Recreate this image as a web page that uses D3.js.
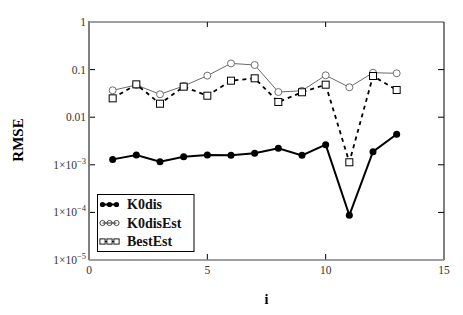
<!DOCTYPE html>
<html><head><meta charset="utf-8">
<script src="https://cdn.jsdelivr.net/npm/d3@7"></script>
<style>body{margin:0;background:#fff} text{font-family:"Liberation Serif","Times New Roman",serif}</style>
</head><body><svg id="c" width="463" height="315"></svg>
<script>
const idx = [1,2,3,4,5,6,7,8,9,10,11,12,13];
const k0dis = [0.0013,0.0016,0.00116,0.00148,0.0016,0.00158,0.00174,0.00222,0.00158,0.00265,0.000087,0.00189,0.00437];
const k0disEst = [0.0367,0.0475,0.0303,0.0452,0.0745,0.135,0.125,0.0338,0.036,0.0759,0.0425,0.086,0.0836];
const bestEst = [0.0249,0.049,0.0192,0.0438,0.0283,0.0585,0.0656,0.0209,0.0334,0.0482,0.00113,0.0734,0.0373];
const xTicks = [0,5,10,15];
const yTicks = [1,0.1,0.01,1e-3,1e-4,1e-5];
const yLabels = ["1","0.1","0.01","1×10|−3","1×10|−4","1×10|−5"];
const seriesNames = ["K0dis","K0disEst","BestEst"];

const svg = d3.select("#c");
const L=89,R=444,T=22,B=260;
const x = d3.scaleLinear().domain([0,15]).range([L,R]);
const y = d3.scaleLog().domain([1e-5,1]).range([B,T]);

// frame
svg.append("line").attr("x1",L).attr("x2",R).attr("y1",T).attr("y2",T).attr("stroke","#808080").attr("stroke-width",1.5);
svg.append("line").attr("x1",R).attr("x2",R).attr("y1",T).attr("y2",B).attr("stroke","#000").attr("stroke-width",1);

// ticks inward
const ga = svg.append("g");
xTicks.slice(1,3).forEach(t=>{
  ga.append("line").attr("x1",x(t)).attr("x2",x(t)).attr("y1",B).attr("y2",B-6).attr("stroke","#000");
  ga.append("line").attr("x1",x(t)).attr("x2",x(t)).attr("y1",T).attr("y2",T+5).attr("stroke","#000");
});
yTicks.slice(1,5).forEach(t=>{
  ga.append("line").attr("x1",L).attr("x2",L+6).attr("y1",y(t)).attr("y2",y(t)).attr("stroke","#000");
  ga.append("line").attr("x1",R).attr("x2",R-6).attr("y1",y(t)).attr("y2",y(t)).attr("stroke","#000");
});
svg.append("line").attr("x1",L).attr("x2",R).attr("y1",B).attr("y2",B).attr("stroke","#808080").attr("stroke-width",1.5);
svg.append("line").attr("x1",L).attr("x2",L).attr("y1",T-1).attr("y2",B).attr("stroke","#808080").attr("stroke-width",2);

// tick labels
xTicks.forEach(t=>{
  svg.append("text").attr("x",x(t)).attr("y",274).attr("text-anchor","middle")
    .style("font-size","11.5px").attr("fill","#333").text(t);
});
yTicks.forEach((t,i)=>{
  const parts = yLabels[i].split("|");
  const tx = svg.append("text").attr("x",86).attr("y",y(t)+4).attr("text-anchor","end")
    .style("font-size","11.5px").attr("fill","#333");
  tx.append("tspan").text(parts[0]);
  if(parts[1]) tx.append("tspan").attr("dy",-5).style("font-size","8.5px").text(parts[1]);
});

// axis titles
svg.append("text").attr("transform","translate(23,140) rotate(-90)").attr("text-anchor","middle")
  .style("font-weight","bold").style("font-size","15px").attr("fill","#000").text("RMSE");
svg.append("text").attr("x",(L+R)/2).attr("y",304).attr("text-anchor","middle")
  .style("font-weight","bold").style("font-size","14px").attr("fill","#000").text("i");

const line = d3.line().x(d=>x(d[0])).y(d=>y(d[1]));
const zip = arr => idx.map((v,i)=>[v,arr[i]]);

// K0disEst
svg.append("path").attr("d",line(zip(k0disEst))).attr("fill","none").attr("stroke","#6a6a6a").attr("stroke-width",1);
svg.append("g").selectAll("circle").data(zip(k0disEst)).join("circle")
  .attr("cx",d=>x(d[0])).attr("cy",d=>y(d[1])).attr("r",3.5).attr("fill","#fff").attr("stroke","#707070").attr("stroke-width",1);

// BestEst
svg.append("path").attr("d",line(zip(bestEst))).attr("fill","none").attr("stroke","#000").attr("stroke-width",1.8).attr("stroke-dasharray","4,4");
svg.append("g").selectAll("rect").data(zip(bestEst)).join("rect")
  .attr("x",d=>x(d[0])-3.5).attr("y",d=>y(d[1])-3.5).attr("width",7).attr("height",7).attr("fill","#fff").attr("stroke","#000").attr("stroke-width",1);

// K0dis
svg.append("path").attr("d",line(zip(k0dis))).attr("fill","none").attr("stroke","#000").attr("stroke-width",2);
svg.append("g").selectAll("circle").data(zip(k0dis)).join("circle")
  .attr("cx",d=>x(d[0])).attr("cy",d=>y(d[1])).attr("r",3.5).attr("fill","#000");

// legend
const lg = svg.append("g");
lg.append("rect").attr("x",97.5).attr("y",194.5).attr("width",96.5).attr("height",57).attr("fill","#fff").attr("stroke","#000").attr("stroke-width",1);
const rows=[204.5,223,241.5];
const sx=[102.5,109.5,116.5];
seriesNames.forEach((n,i)=>{
  const yy=rows[i];
  if(i===0){
    lg.append("line").attr("x1",sx[0]).attr("x2",sx[2]).attr("y1",yy).attr("y2",yy).attr("stroke","#000").attr("stroke-width",2);
    sx.forEach(s=>lg.append("circle").attr("cx",s).attr("cy",yy).attr("r",2.6).attr("fill","#000"));
  } else if(i===1){
    lg.append("line").attr("x1",sx[0]).attr("x2",sx[2]).attr("y1",yy).attr("y2",yy).attr("stroke","#333").attr("stroke-width",1);
    sx.forEach(s=>lg.append("circle").attr("cx",s).attr("cy",yy).attr("r",2.6).attr("fill","none").attr("stroke","#333").attr("stroke-width",0.9));
  } else {
    lg.append("line").attr("x1",sx[0]).attr("x2",sx[2]).attr("y1",yy).attr("y2",yy).attr("stroke","#000").attr("stroke-width",1);
    sx.forEach(s=>lg.append("rect").attr("x",s-2.6).attr("y",yy-2.6).attr("width",5.2).attr("height",5.2).attr("fill","#fff").attr("stroke","#000").attr("stroke-width",0.9));
  }
  lg.append("text").attr("x",127).attr("y",yy+4.5).style("font-weight","bold")
    .style("font-size","14px").attr("fill","#111").text(n);
});
</script></body></html>
